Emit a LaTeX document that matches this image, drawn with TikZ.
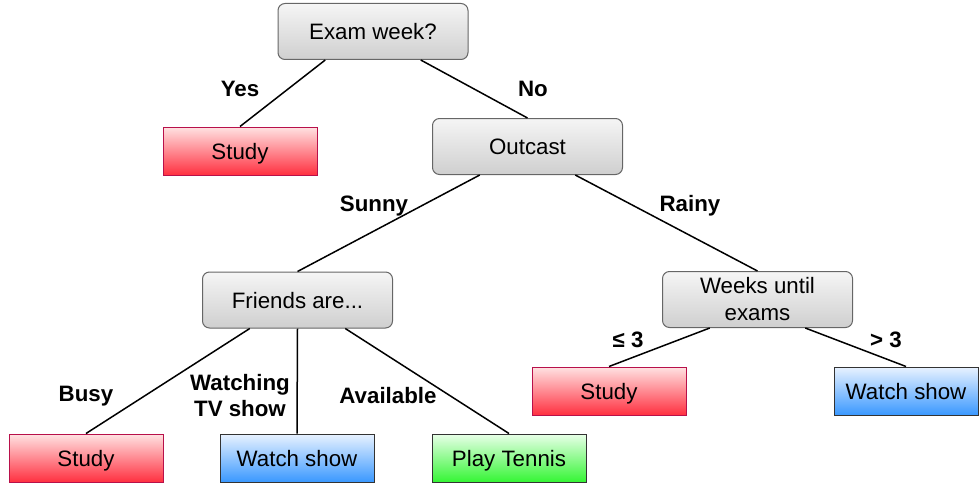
\documentclass[tikz,border=0pt]{standalone}
\usepackage{fontspec}
\setmainfont{Liberation Sans}
\usetikzlibrary{calc}
\definecolor{grayTop}{HTML}{F5F5F5}
\definecolor{grayBot}{HTML}{CFCFCF}
\definecolor{grayLine}{HTML}{666666}
\definecolor{redTop}{HTML}{FFE2E2}
\definecolor{redBot}{HTML}{FF3040}
\definecolor{redLine}{HTML}{B8104A}
\definecolor{blueTop}{HTML}{E8F2FF}
\definecolor{blueBot}{HTML}{3A98FF}
\definecolor{greenTop}{HTML}{E8FFE8}
\definecolor{greenBot}{HTML}{35F535}
\definecolor{darkLine}{HTML}{333333}
\tikzset{
  boxfont/.style={font=\fontsize{22.3}{26}\selectfont},
  oneline/.style={text height=16.5pt, text depth=0pt},
  question/.style={draw=grayLine, line width=1pt, rounded corners=7pt,
    top color=grayTop, bottom color=grayBot, minimum width=190pt,
    minimum height=56pt, inner sep=2pt, align=center, boxfont},
  leaf/.style={line width=1pt, minimum width=154pt, minimum height=48pt,
    inner sep=2pt, align=center, boxfont, oneline},
  studyleaf/.style={leaf, draw=redLine, top color=redTop, bottom color=redBot},
  showleaf/.style={leaf, draw=darkLine, top color=blueTop, bottom color=blueBot},
  tennisleaf/.style={leaf, draw=darkLine, top color=greenTop, bottom color=greenBot},
  branch/.style={line width=1.5pt, black},
  edgelabel/.style={font=\fontsize{22.3}{26}\selectfont\bfseries, align=center, inner sep=0pt}
}
\begin{document}
\begin{tikzpicture}[x=1pt, y=-1pt]
\useasboundingbox (0,0) rectangle (979,487);

% decision nodes
\node[question, oneline] (exam) at (373,31.5) {Exam week?};
\node[question, oneline] (out) at (527.5,146.5) {Outcast};
\node[question, oneline] (friends) at (297.5,300) {Friends are...};
\node[question] (weeks) at (757.5,299.5) {Weeks until\\[1pt]exams};

% outcomes
\node[studyleaf] (study1) at (240,151) {Study};
\node[studyleaf] (study2) at (609,391) {Study};
\node[showleaf, minimum width=144pt] (show2) at (906,391) {Watch show};
\node[studyleaf] (study3) at (86,458) {Study};
\node[showleaf] (show1) at (297,458) {Watch show};
\node[tennisleaf] (tennis) at (509,458) {Play Tennis};

% branches leave the parents at a quarter of their width
\draw[branch] ($(exam.south)!0.5!(exam.south west)$) -- (study1.north);
\draw[branch] ($(exam.south)!0.5!(exam.south east)$) -- (out.north);
\draw[branch] ($(out.south)!0.5!(out.south west)$) -- (friends.north);
\draw[branch] ($(out.south)!0.5!(out.south east)$) -- (weeks.north);
\draw[branch] ($(friends.south)!0.5!(friends.south west)$) -- (study3.north);
\draw[branch] (friends.south) -- (show1.north);
\draw[branch] ($(friends.south)!0.5!(friends.south east)$) -- (tennis.north);
\draw[branch] ($(weeks.south)!0.5!(weeks.south west)$) -- (study2.north);
\draw[branch] ($(weeks.south)!0.5!(weeks.south east)$) -- (show2.north);

% branch labels
\node[edgelabel] (lyes) at (240,89) {Yes};
\node[edgelabel] (lno) at (533,89) {No};
\node[edgelabel] (lsunny) at (374,206) {Sunny};
\node[edgelabel] (lrainy) at (690,206) {Rainy};
\node[edgelabel] (lbusy) at (86,396) {Busy};
\node[edgelabel] (ltv) at (240,396) {Watching\\[0pt]TV show};
\node[edgelabel] (lavail) at (388,396) {Available};
\node[edgelabel] (lle) at (628,340) {≤ 3};
\node[edgelabel] (lgt) at (886,340) {> 3};
\end{tikzpicture}
\end{document}
